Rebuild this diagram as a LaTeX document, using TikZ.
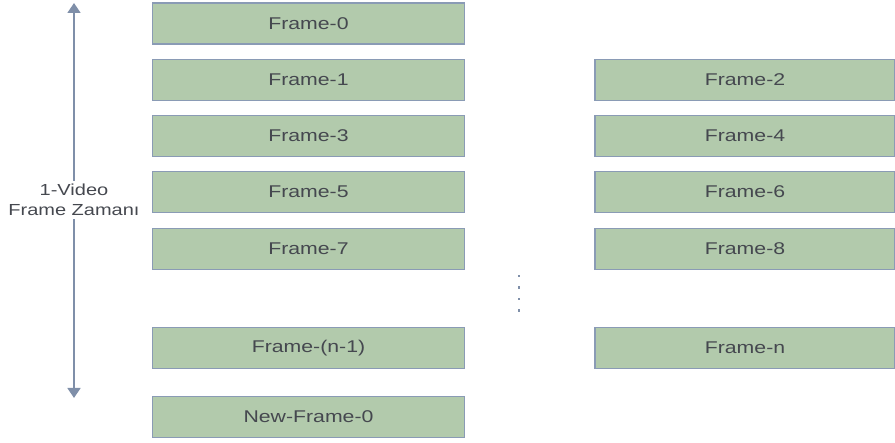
\documentclass[tikz,border=0pt]{standalone}
\usepackage{fontspec}
\setmainfont{Liberation Sans}[FakeStretch=1.25]
\usetikzlibrary{arrows.meta}
\definecolor{boxfill}{HTML}{B2CAAC}
\definecolor{boxline}{HTML}{8A9BB5}
\definecolor{txt}{HTML}{45484F}
\definecolor{arr}{HTML}{7F8FA9}
\begin{document}
\begin{tikzpicture}[x=1pt,y=-1pt,
  fbox/.style={draw=boxline,line width=1.5pt,fill=boxfill,text=txt,inner sep=0pt,
    font=\fontsize{17}{20}\selectfont},
  lbox/.style={fbox,minimum width=312pt,minimum height=41pt},
  rbox/.style={fbox,minimum width=300pt,minimum height=41pt},
  dotb/.style={fill=arr,inner sep=0pt,minimum size=2.5pt},
  every node/.style={anchor=center}]
\useasboundingbox (0,0) rectangle (895,443);
\node[lbox] (f0) at (308.5,23.5) {Frame-0};
\node[lbox] (f1) at (308.5,80) {Frame-1};
\node[lbox] (f3) at (308.5,136) {Frame-3};
\node[lbox] (f5) at (308.5,192) {Frame-5};
\node[lbox] (f7) at (308.5,249) {Frame-7};
\node[lbox] (fn1) at (308.5,348) {Frame-(n-1)};
\node[lbox] (nf0) at (308.5,417) {New-Frame-0};
\node[rbox] (f2) at (745,80) {Frame-2};
\node[rbox] (f4) at (745,136) {Frame-4};
\node[rbox] (f6) at (745,192) {Frame-6};
\node[rbox] (f8) at (745,249) {Frame-8};
\node[rbox] (fn) at (745,348) {Frame-n};
\node[dotb] (d1) at (519,276) {};
\node[dotb] (d2) at (519,287.5) {};
\node[dotb] (d3) at (519,299) {};
\node[dotb] (d4) at (519,310.5) {};
\node[align=center,text=txt,font=\fontsize{16}{20}\selectfont,inner sep=3pt] (lbl) at (74,200) {1-Video\\Frame Zamanı};
\coordinate (top) at (74,3);
\coordinate (bot) at (74,398);
\draw[arr,line width=1.5pt,-{Triangle[width=13pt,length=10pt]}] (lbl.north) -- (top);
\draw[arr,line width=1.5pt,-{Triangle[width=13pt,length=10pt]}] (lbl.south) -- (bot);
\end{tikzpicture}
\end{document}
